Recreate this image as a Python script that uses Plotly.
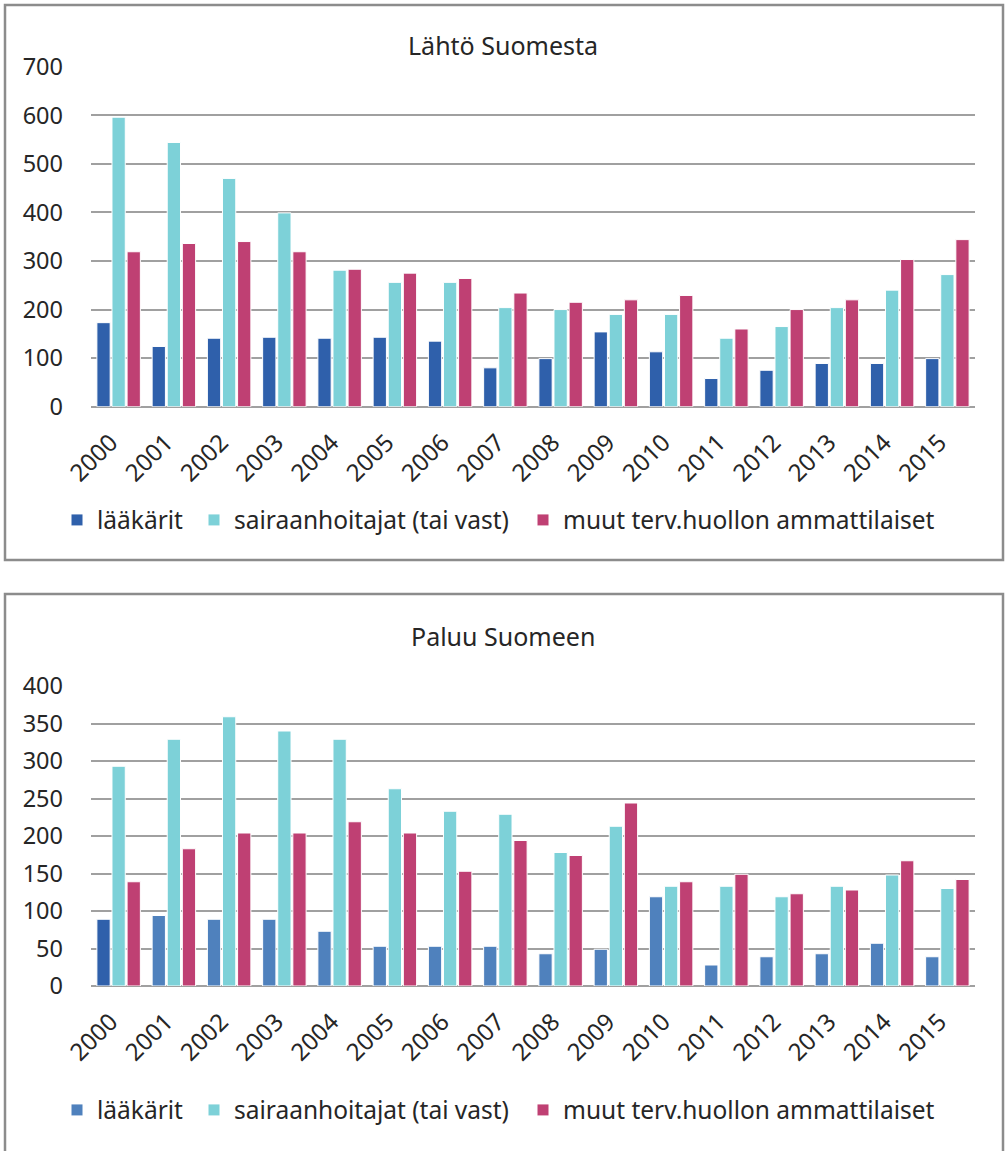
import plotly.graph_objects as go

W, H = 1005, 1151

years = [str(y) for y in range(2000, 2016)]

# Lähtö Suomesta
out_laakarit = [173, 124, 141, 143, 141, 143, 135, 80, 99, 154, 113, 58, 75, 89, 89, 99]
out_hoitajat = [596, 544, 470, 399, 281, 256, 256, 204, 200, 190, 190, 141, 165, 204, 240, 272]
out_muut = [319, 336, 340, 319, 283, 275, 264, 234, 215, 220, 229, 160, 200, 220, 303, 344]

# Paluu Suomeen
in_laakarit = [89, 94, 89, 89, 73, 53, 53, 53, 43, 49, 119, 28, 39, 43, 57, 39]
in_hoitajat = [293, 329, 359, 340, 329, 263, 233, 229, 178, 213, 133, 133, 119, 133, 148, 130]
in_muut = [139, 183, 204, 204, 219, 204, 153, 194, 174, 244, 139, 149, 123, 128, 167, 142]

series_names = ["lääkärit", "sairaanhoitajat (tai vast)", "muut terv.huollon ammattilaiset"]
titles = ["Lähtö Suomesta", "Paluu Suomeen"]
top_ticks = [0, 100, 200, 300, 400, 500, 600, 700]
bottom_ticks = [0, 50, 100, 150, 200, 250, 300, 350, 400]

C_BLUE_DARK = "#2F60AB"
C_BLUE_LIGHT = "#4F81BD"
C_CYAN = "#7DD1D8"
C_MAG = "#BF4073"
FONT = "Noto Sans"
TXT = "#262626"


def px(x):
    return x / W


def py(y):
    return 1 - y / H


fig = go.Figure()

leg_top_y = 520
leg_bot_y = 1110
leg_x = [57, 194, 523]

top_colors = [C_BLUE_DARK, C_CYAN, C_MAG]

for i, (vals, name) in enumerate(zip([out_laakarit, out_hoitajat, out_muut], series_names)):
    fig.add_trace(go.Bar(
        x=years, y=vals, name=name, xaxis="x", yaxis="y",
        marker=dict(color=top_colors[i], line=dict(color="white", width=1)),
        legend="legend" if i == 0 else f"legend{i+1}",
        showlegend=True,
    ))

# bottom chart: first bar (2000) of lääkärit is darker in the original;
# feed points starting from 2001 so the legend swatch takes the light blue
order = list(range(1, len(years))) + [0]
bl_x = [years[j] for j in order]
bl_y = [in_laakarit[j] for j in order]
bl_c = [C_BLUE_DARK if j == 0 else C_BLUE_LIGHT for j in order]

fig.add_trace(go.Bar(
    x=bl_x, y=bl_y, name=series_names[0], xaxis="x2", yaxis="y2",
    marker=dict(color=bl_c, line=dict(color="white", width=1)),
    legend="legend4", showlegend=True,
))
for i, (vals, name, col) in enumerate(zip([in_hoitajat, in_muut], series_names[1:], [C_CYAN, C_MAG])):
    fig.add_trace(go.Bar(
        x=years, y=vals, name=name, xaxis="x2", yaxis="y2",
        marker=dict(color=col, line=dict(color="white", width=1)),
        legend=f"legend{i+5}", showlegend=True,
    ))

legends = {}
for k in range(6):
    key = "legend" if k == 0 else f"legend{k+1}"
    yy = leg_top_y if k < 3 else leg_bot_y
    legends[key] = dict(
        x=px(leg_x[k % 3]), y=py(yy), xanchor="left", yanchor="middle",
        orientation="h", bgcolor="rgba(0,0,0,0)",
        font=dict(family=FONT, size=24.5, color=TXT),
        itemwidth=30, tracegroupgap=0,
    )

axis_common = dict(
    showgrid=True, gridcolor="#A0A0A0", gridwidth=1.5,
    zeroline=True, zerolinecolor="#A0A0A0", zerolinewidth=1.5,
    tickfont=dict(family=FONT, size=23.5, color=TXT),
    ticks="", automargin=False, fixedrange=True,
)

xaxis_common = dict(
    type="category", categoryorder="array", categoryarray=years,
    tickangle=-45, showgrid=False, showline=False,
    tickfont=dict(family=FONT, size=24, color=TXT),
    ticks="", automargin=False, fixedrange=True,
    ticklabelstandoff=16, ticklabelshift=-8,
)

x_dom = [px(91), px(975)]

fig.update_layout(
    width=W, height=H, autosize=False,
    margin=dict(l=0, r=0, t=0, b=0),
    paper_bgcolor="white", plot_bgcolor="white",
    barmode="group", bargap=0.18, bargroupgap=0.12,
    font=dict(family=FONT, color=TXT),
    hovermode=False,
    xaxis=dict(domain=x_dom, anchor="y", **xaxis_common),
    yaxis=dict(domain=[py(406.7), py(66.7)], anchor="x", range=[0, 700],
               tickvals=top_ticks, ticklabelstandoff=27, **axis_common),
    xaxis2=dict(domain=x_dom, anchor="y2", **xaxis_common),
    yaxis2=dict(domain=[py(986), py(686)], anchor="x2", range=[0, 400],
                tickvals=bottom_ticks, ticklabelstandoff=27, **axis_common),
    **legends,
    annotations=[
        dict(text=titles[0], x=px(503), y=py(45), xref="paper", yref="paper",
             showarrow=False, xanchor="center", yanchor="middle",
             font=dict(family=FONT, size=25, color=TXT)),
        dict(text=titles[1], x=px(503), y=py(636), xref="paper", yref="paper",
             showarrow=False, xanchor="center", yanchor="middle",
             font=dict(family=FONT, size=25, color=TXT)),
    ],
    shapes=[
        dict(type="rect", xref="paper", yref="paper",
             x0=px(5), x1=px(1003), y0=py(560), y1=py(5),
             line=dict(color="#8C8C8C", width=2.5), fillcolor="rgba(0,0,0,0)", layer="below"),
        dict(type="rect", xref="paper", yref="paper",
             x0=px(5), x1=px(1003), y0=py(1170), y1=py(594),
             line=dict(color="#8C8C8C", width=2.5), fillcolor="rgba(0,0,0,0)", layer="below"),
    ],
)

fig.write_html(
    "out.html",
    config={"displayModeBar": False, "staticPlot": False},
    post_script="document.body.style.margin='0px';document.body.style.overflow='hidden';",
)
